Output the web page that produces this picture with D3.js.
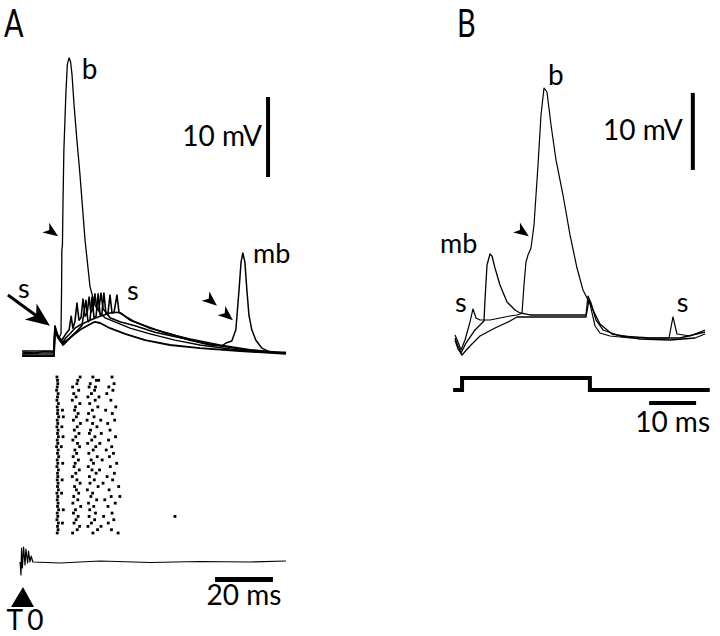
<!DOCTYPE html>
<html><head><meta charset="utf-8">
<script src="https://cdn.jsdelivr.net/npm/d3@7"></script>
<style>
body{margin:0;background:#fff}
svg{display:block}
text{font-family:Lato,"Open Sans",sans-serif;font-weight:400;fill:#000}
</style>
</head><body>
<svg id="chart" width="720" height="636"></svg>
<script>
// ---------------- Panel A data (time in ms, membrane potential in mV re. baseline) ----------------
const aTimeB  = [-0.3,4,7.5,10.7,11,11.7,12.4,13.1,13.3,13.4,13.6,13.8,14.1,14.8,15.3,15.9,16.4,16.9,17.6,18.6,19.6,21.4,23.1,24.8,26.5,28.3,31.7,36.9,43.8,52.4,61,71.4,81.7,90.7];
const aVoltB  = [0.1,0,0.2,0.1,3.1,2.5,1.9,2.4,7.9,12.9,13.5,19.1,25.4,32.6,36.1,36.9,36.4,34.8,31,26.6,22.5,14.1,8.3,6,5,4.4,3.9,3.1,2.4,1.6,1,0.5,0.1,0];
const aTimeMB = [-0.3,5.9,10.7,11,11.7,12.8,13.8,14.8,16.2,17.9,19.7,23.1,26.6,30,32.8,35.2,38.6,43.8,50.7,57.6,64.5,68.6,70,72,73.4,74.5,75.2,75.8,76.5,77.2,77.9,78.9,80.3,82.4,85.2,90.7];
const aVoltMB = [-0.1,0,0,3.25,2.25,1.5,1.4,1.9,2.4,3.1,3.5,4.1,4.6,5,5.1,4.6,3.9,3.1,2.4,1.6,1,0.9,1.25,1.5,2.9,7.9,11.4,12.5,11.4,7.9,4.75,2.9,1.6,0.6,0.1,0];
const aTimeS1 = [-0.3,10.7,11,12.1,13.4,14.8,15.9,16.6,17.2,17.9,18.6,19.3,20,20.7,21.4,22.1,22.8,23.4,24.1,24.8,25.5,26.2,26.9,27.6,28.6,30,33.4,38.6,45.5,54.1,64.5,74.8,85.2,90.7];
const aVoltS1 = [0.25,0.25,3.4,2.1,1.6,2.4,2.9,4.6,3.1,3.9,6.25,4.1,4.4,6.75,4.6,4.9,7,5.1,5.4,7.4,5.4,5.6,7.5,5.5,5.1,4.4,3.9,3.4,2.6,1.9,1.1,0.5,0.1,0.1];
const aTimeS2 = [-0.3,10.7,11,12.1,13.8,16.2,19,20.3,21.7,22.4,23.1,23.8,24.5,25.2,25.9,26.6,27.2,27.9,28.6,29.3,30,30.7,31.4,32.4,33.1,34.1,36.9,42.1,49,57.6,67.9,78.3,90.7];
const aVoltS2 = [-0.25,-0.25,3,1.9,1.25,1.9,2.9,3.4,6.6,3.9,4.1,7,4.4,4.6,7.4,4.75,4.9,7.5,4.9,5,7.25,5,5.1,7.25,5.1,4.9,4.1,3.4,2.5,1.75,1,0.4,0];
const aTimeL  = [-0.3,10.7,11,12.1,13.8,16.2,19.7,23.1,24.8,26.6,30,35.2,42.1,50.7,61,74.8,90.7];
const aVoltL  = [-0.4,-0.4,2.9,1.9,1,1.9,2.9,3.6,3.9,3.75,3.1,2.4,1.6,1,0.6,0.25,-0.1];

// stimulus monitor trace (arbitrary units)
const stimTime = [-1.0,-0.7,-0.5,-0.2,0.2,0.7,1.0,1.6,1.9,2.4,2.8,3.4,12.8,26.6,43.8,61,78.3,90.7];
const stimVal  = [0,-1.3,1.4,-0.6,1.5,-0.3,1.3,-0.1,1.1,0,0.6,0,-0.1,0.1,-0.05,0.05,0,0.1];

// raster: spike times (ms) per trial
const rasterTrials = [
[11.7,19.7,24.1,30.7],[11.9,18.9,25.3,26.1],[12.0,18.6,23.2,31.4],[11.8,17.1,22.8,25.0,29.6],
[11.6,19.2,24.7,31.0],[12.1,17.5,23.6,28.9],[11.9,18.3,22.4,26.2],[11.7,17.0,24.9,30.3],
[12.2,19.6,23.0],[11.8,18.1,25.8,32.0],[12.0,13.6,17.8,23.9,28.5],[11.9,19.0,22.6,30.8],
[12.3,13.9,18.4,24.5],[11.8,17.4,22.1,26.8,31.6],[12.0,19.8,24.0,29.2],[11.7,13.4,18.7,25.5],
[12.1,17.7,23.3,30.0],[11.9,19.3,22.9,27.0],[12.2,13.8,18.2,24.8,31.9],[11.8,17.2,23.7,29.5],
[12.0,18.8,22.3,26.5],[11.6,13.2,19.5,25.1,30.6],[12.1,17.9,24.2,28.7],[11.9,18.5,22.7,31.2],
[12.3,17.3,25.6,29.8],[11.8,19.1,23.5,27.3],[12.0,13.7,18.0,24.3,32.3],[11.7,17.6,22.5,30.1],
[12.2,19.4,23.8,26.4],[11.9,18.2,25.2,31.5],[12.0,17.0,22.9,29.0],[11.8,13.5,18.6,24.6,30.9],
[12.1,19.7,23.1,27.6],[11.9,17.8,25.9,33.0],[12.2,18.4,22.2,29.7],[11.7,13.3,19.2,24.0],
[12.0,17.5,23.4,30.4,33.4],[11.8,18.9,25.4,28.2],[12.1,17.2,22.6,31.8],[11.9,19.9,24.4,29.3],
[12.3,13.9,18.1,23.0],[11.8,17.4,25.0,30.7],[12.0,19.0,22.8,27.8,52.4],[11.7,18.3,24.7,31.3],
[12.2,13.6,17.6,23.6,29.4],[11.9,19.5,22.4,26.9],[12.1,18.7,25.7,30.5],[11.8,17.1,24.1,32.8]
];

// ---------------- Panel B data ----------------
const bTimeB  = [0,0.64,1.28,2.13,3.19,3.83,4.47,5.32,7.45,9.57,11.7,13.19,13.83,14.26,14.68,15.1,15.53,16.17,16.81,17.66,18.3,18.94,19.57,20.43,21.49,22.98,24.47,25.96,27.23,28.09,28.72,29.79,30.85,32.98,37.23,43.62,45.53,46.38,47.23,50,53.19];
const bVoltB  = [0.26,-0.65,-1.69,-0.39,1.95,3.64,2.47,2.21,2.21,2.47,2.73,2.86,2.99,3.12,6.75,9.74,10.65,11.56,14.55,22.34,28.83,32.34,31.82,27.53,22.99,18.44,13.25,8.96,6.1,5.06,4.29,1.43,0.52,0.13,-0.13,-0.13,-0.13,2.6,0.39,0.13,0.91];
const bTimeMB = [0,0.64,1.28,2.34,4.26,6.17,6.38,6.81,7.45,7.87,8.51,9.57,11.06,12.77,13.83,15.96,22.34,27.87,28.3,28.94,30,31.49,35.11,41.49,47.87,53.19];
const bVoltMB = [-0.13,-1.17,-2.08,-0.78,0.91,2.08,4.81,9.35,10.78,10.52,8.96,6.75,4.55,3.51,3.12,2.86,2.86,2.86,5.32,4.42,2.21,0.91,0.13,-0.13,-0.13,0.65];
const bTimeL  = [0,0.64,1.49,3.19,5.32,8.51,11.7,13.19,18.09,27.87,28.51,29.36,30.85,33.4,39.36,45.74,51.06,53.19];
const bVoltL  = [-0.39,-1.56,-2.34,-1.17,0.13,1.17,2.08,2.6,2.6,2.6,4.81,3.51,1.69,0.39,-0.26,-0.39,-0.13,0.39];
const stepTime = [-0.4,1.5,1.5,28.7,28.7,54.2];
const stepLevel = [0,0,1,1,0,0];

// ---------------- scales ----------------
const svg = d3.select("#chart");
const xA = d3.scaleLinear().domain([0, 91]).range([23, 286.9]);
const yA = d3.scaleLinear().domain([0, 10]).range([353, 273]);
const yStim = d3.scaleLinear().domain([0, 1]).range([562, 552]);
const yRaster = d3.scaleLinear().domain([0, rasterTrials.length - 1]).range([377, 533]);
const xB = d3.scaleLinear().domain([0, 53]).range([455, 704.1]);
const yB = d3.scaleLinear().domain([0, 10]).range([337, 260]);
const yStep = d3.scaleLinear().domain([0, 1]).range([390, 378]);

function trace(t, v, xs, ys, w) {
  const line = d3.line().x(d => xs(d[0])).y(d => ys(d[1]));
  svg.append("path").attr("d", line(d3.zip(t, v)))
    .attr("fill", "none").attr("stroke", "#000").attr("stroke-width", w)
    .attr("stroke-linejoin", "round");
}
function label(txt, x, y, size, anchor) {
  return svg.append("text").attr("x", x).attr("y", y).attr("font-size", size)
    .attr("text-anchor", anchor || "start").text(txt);
}
function dart(x, y, angle, len, wid) {
  const p = [[0,0],[-len,-wid/2],[-len*0.72,0],[-len,wid/2]];
  svg.append("path").attr("d", "M" + p.map(q => q.join(",")).join("L") + "Z")
    .attr("transform", `translate(${x},${y}) rotate(${angle})`).attr("fill", "#000");
}

// ---------------- Panel A ----------------
trace(aTimeL, aVoltL, xA, yA, 1.8);
trace(aTimeS2, aVoltS2, xA, yA, 1.6);
trace(aTimeS1, aVoltS1, xA, yA, 1.6);
trace(aTimeMB, aVoltMB, xA, yA, 1.5);
trace(aTimeB, aVoltB, xA, yA, 1.3);

// raster
rasterTrials.forEach((spikes, i) => {
  svg.selectAll(null).data(spikes).enter().append("rect")
    .attr("x", d => xA(d) - 1.4).attr("y", yRaster(i) - 1.4)
    .attr("width", 2.8).attr("height", 2.8).attr("fill", "#000");
});

// stimulus trace
trace(stimTime, stimVal, xA, yStim, 1.2);
svg.append("path").attr("fill", "#000")
  .attr("d", `M${xA(0)},587L${xA(0)-12},607L${xA(0)+11},607Z`);
label("T 0", xA(0) + 2, 630, 28, "middle").attr("word-spacing", "-2px");

// scale bars A
svg.append("line").attr("x1", xA(84.5)).attr("x2", xA(84.5)).attr("y1", yA(32)).attr("y2", yA(22))
  .attr("stroke", "#000").attr("stroke-width", 4);
label("10 mV", xA(84.5) - 6, 146, 28, "end");
svg.append("line").attr("x1", xA(66.2)).attr("x2", xA(86.2)).attr("y1", 579.5).attr("y2", 579.5)
  .attr("stroke", "#000").attr("stroke-width", 5);
label("20 ms", xA(76.2), 605, 28, "middle");

// labels A
label("b", xA(20.3), yA(34.25), 28);
label("mb", xA(79.3), yA(11.25), 27);
label("s", xA(-1.7), yA(6.9), 27);
label("s", xA(35.9), yA(6.6), 27);
// big arrow
svg.append("line").attr("x1", xA(-5.2)).attr("y1", yA(7.25)).attr("x2", xA(4.6)).attr("y2", yA(4.65))
  .attr("stroke", "#000").attr("stroke-width", 3);
dart(xA(9.3), yA(3.4), 36.4, 24, 20);
// arrowheads
dart(xA(12.1), yA(14.6), 35, 15, 12);
dart(xA(66.9), yA(5.9), 40, 15, 12);
dart(xA(72.4), yA(4.1), 40, 15, 12);

label("A", 4, 37.5, 38).attr("transform", "translate(4,37.5) scale(0.76,1) translate(-4,-37.5)");

// ---------------- Panel B ----------------
trace(bTimeL, bVoltL, xB, yB, 1.3);
trace(bTimeMB, bVoltMB, xB, yB, 1.3);
trace(bTimeB, bVoltB, xB, yB, 1.2);

const stepLine = d3.line().x(d => xB(d[0])).y(d => yStep(d[1]));
svg.append("path").attr("d", stepLine(d3.zip(stepTime, stepLevel)))
  .attr("fill", "none").attr("stroke", "#000").attr("stroke-width", 4);

svg.append("line").attr("x1", xB(50.6)).attr("x2", xB(50.6)).attr("y1", yB(31.7)).attr("y2", yB(21.7))
  .attr("stroke", "#000").attr("stroke-width", 4);
label("10 mV", xB(50.6) - 10, 140, 28, "end");
svg.append("line").attr("x1", xB(41.3)).attr("x2", xB(51.3)).attr("y1", 403).attr("y2", 403)
  .attr("stroke", "#000").attr("stroke-width", 4);
label("10 ms", xB(46.3), 432, 28, "middle");

label("b", xB(19.8), yB(32.7), 28);
label("mb", xB(-3.2), yB(10.9), 27);
label("s", xB(0), yB(3.25), 27);
label("s", xB(47.2), yB(3.25), 27);
dart(xB(15.7), yB(13.1), 35, 15, 12);

label("B", 457, 37.5, 38).attr("transform", "translate(457,37.5) scale(0.76,1) translate(-457,-37.5)");
</script>
</body></html>
